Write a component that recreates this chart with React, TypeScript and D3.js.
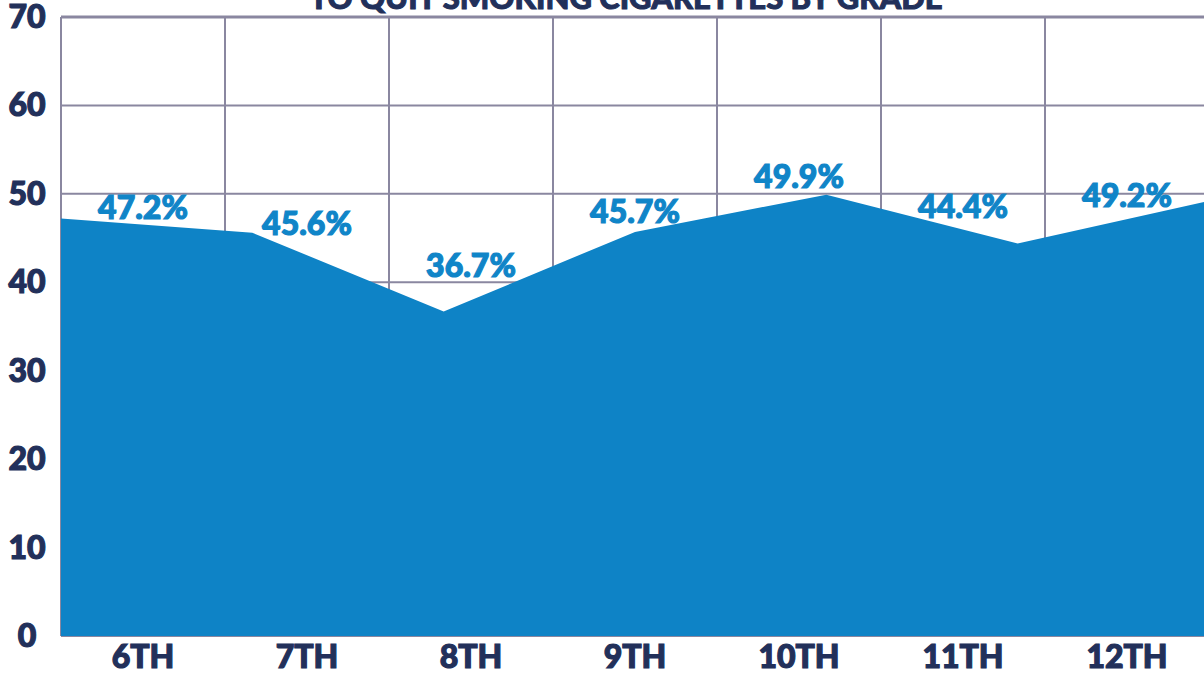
import React, { useRef, useEffect } from "react";
import * as d3 from "d3";

const grades = ["6TH", "7TH", "8TH", "9TH", "10TH", "11TH", "12TH"];
const percentQuit = [47.2, 45.6, 36.7, 45.7, 49.9, 44.4, 49.2];
const yTicks = [0, 10, 20, 30, 40, 50, 60, 70];
// hand nudges for value labels (px from the point), as in the original artwork
const labelDy = [0, 2, -34, -9, -7, -25, 6];
const title = "TO QUIT SMOKING CIGARETTES BY GRADE";

const W = 1204;
const H = 675;
const FONT = "Lato, 'Open Sans', sans-serif";

const App = () => {
  const svgRef = useRef<SVGSVGElement | null>(null);

  useEffect(() => {
    const svg = d3.select(svgRef.current);
    svg.selectAll("*").remove();

    const left = 61;
    const right = 1209;
    const top = 17;
    const bottom = 636;

    const x = d3.scaleBand<string>().domain(grades).range([left, right]);
    const xp = d3.scalePoint<string>().domain(grades).range([left, right]);
    const y = d3.scaleLinear().domain([0, 70]).range([bottom, top]);

    // title (only its lower edge shows)
    svg.append("text")
      .attr("x", 626)
      .attr("y", 9)
      .attr("text-anchor", "middle")
      .attr("font-family", FONT)
      .attr("font-weight", 900)
      .attr("font-size", 31)
      .attr("fill", "#22305a")
      .attr("stroke", "#22305a")
      .attr("stroke-width", 1)
      .text(title);

    const grid = svg.append("g").attr("stroke", "#8a87a0").attr("stroke-width", 2);
    grid.selectAll("line.h")
      .data(yTicks)
      .enter()
      .append("line")
      .attr("x1", left)
      .attr("x2", W)
      .attr("y1", d => y(d))
      .attr("y2", d => y(d))
      .attr("stroke-width", d => (d === 70 ? 3 : 2));

    const vx = grades.map(g => x(g) as number).concat([right]);
    grid.selectAll("line.v")
      .data(vx)
      .enter()
      .append("line")
      .attr("x1", d => d)
      .attr("x2", d => d)
      .attr("y1", top)
      .attr("y2", bottom);

    const area = d3.area<number>()
      .x((_, i) => xp(grades[i]) as number)
      .y0(y(0))
      .y1(d => y(d));

    svg.append("path")
      .datum(percentQuit)
      .attr("d", area)
      .attr("fill", "#0e83c6");

    // value labels
    svg.append("g")
      .selectAll("text")
      .data(percentQuit)
      .enter()
      .append("text")
      .attr("x", (_, i) => (x(grades[i]) as number) + x.bandwidth() / 2)
      .attr("y", (d, i) => y(d) + labelDy[i])
      .attr("text-anchor", "middle")
      .attr("font-family", FONT)
      .attr("font-weight", 900)
      .attr("font-size", 32)
      .attr("fill", "#1085c8")
      .attr("stroke", "#1085c8")
      .attr("stroke-width", 1.2)
      .text(d => `${d.toFixed(1)}%`);

    // y tick labels
    svg.append("g")
      .selectAll("text")
      .data(yTicks)
      .enter()
      .append("text")
      .attr("x", 27)
      .attr("y", d => y(d) + 11)
      .attr("text-anchor", "middle")
      .attr("font-family", FONT)
      .attr("font-weight", 900)
      .attr("font-size", 32)
      .attr("fill", "#22305a")
      .attr("stroke", "#22305a")
      .attr("stroke-width", 1.2)
      .text(d => d);

    // x labels
    svg.append("g")
      .selectAll("text")
      .data(grades)
      .enter()
      .append("text")
      .attr("x", d => (x(d) as number) + x.bandwidth() / 2)
      .attr("y", 668)
      .attr("text-anchor", "middle")
      .attr("font-family", FONT)
      .attr("font-weight", 900)
      .attr("font-size", 32)
      .attr("fill", "#22305a")
      .attr("stroke", "#22305a")
      .attr("stroke-width", 1.2)
      .text(d => d);
  }, []);

  return (
    <svg
      ref={svgRef}
      width={W}
      height={H}
      style={{ position: "absolute", left: 0, top: 0, display: "block", background: "#fff" }}
    />
  );
};

export default App;
